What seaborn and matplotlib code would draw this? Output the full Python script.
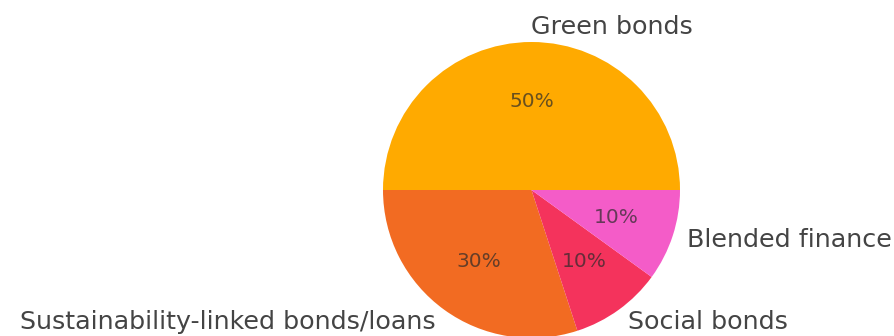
import matplotlib
matplotlib.use("Agg")
import matplotlib.pyplot as plt
import seaborn as sns

labels = ["Green bonds", "Sustainability-linked bonds/loans", "Social bonds", "Blended finance"]
shares = [50, 30, 10, 10]
colors = ["#FFAA00", "#F26B22", "#F4335C", "#F45CC8"]

sns.set_theme(style="white")
plt.rcParams['font.family'] = ['DejaVu Sans']

fig = plt.figure(figsize=(8.95, 3.36), dpi=100)
ax = fig.add_axes([383 / 895, -2 / 336, 297 / 895, 296 / 336])
wedges, texts, autotexts = ax.pie(
    shares, labels=labels, colors=colors, autopct="%1.0f%%",
    startangle=0, counterclock=True,
    textprops={"fontsize": 18.3, "color": "#444444"},
    wedgeprops={"linewidth": 0},
)
texts[0].set_horizontalalignment("left")
for t in autotexts:
    t.set_fontsize(14.5)
    t.set_color("#2a2a2a")
    t.set_alpha(0.7)
ax.set_xlim(-1, 1)
ax.set_ylim(-1, 1)
ax.set_aspect("auto")
ax.axis("off")
fig.savefig("out.png", dpi=100)
